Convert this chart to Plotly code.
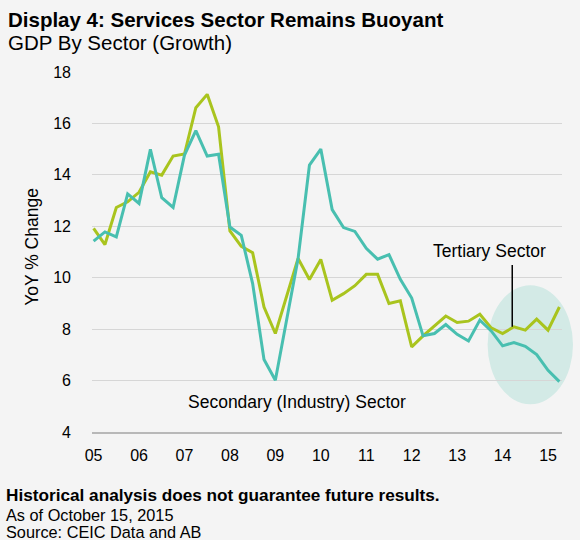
import plotly.graph_objects as go

# quarterly YoY growth, 2005Q1 - 2015Q2
quarters = [f"{y}Q{q}" for y in range(2005, 2016) for q in range(1, 5)][:42]
secondary = [11.42, 11.78, 11.59, 13.26, 12.89, 14.99, 13.11, 12.73,
             14.77, 15.72, 14.73, 14.80, 11.97, 11.65, 9.77, 6.82,
             6.01, 8.39, 10.75, 14.38, 15.00, 12.65, 11.95, 11.80,
             11.14, 10.72, 10.90, 9.94, 9.21, 7.74, 7.83, 8.18,
             7.80, 7.54, 8.35, 7.93, 7.35, 7.48, 7.33, 7.01,
             6.40, 5.96]
tertiary = [11.92, 11.29, 12.73, 12.95, 13.32, 14.12, 13.99, 14.73,
            14.81, 16.61, 17.13, 15.87, 11.82, 11.22, 10.97, 8.86,
            7.83, 9.26, 10.75, 9.93, 10.71, 9.12, 9.38, 9.69,
            10.13, 10.13, 9.00, 9.10, 7.31, 7.74, 8.12, 8.51,
            8.26, 8.31, 8.58, 8.05, 7.83, 8.09, 7.96, 8.39,
            7.96, 8.86]
tick_quarters = [f"{y}Q1" for y in range(2005, 2016)]
tick_labels = ["05", "06", "07", "08", "09", "10", "11", "12", "13", "14", "15"]

TEAL = "#48bfb0"
LIME = "#a9c41e"
BG = "#f4f4f4"
FONT = "Liberation Sans, Arial, sans-serif"

# plot box in pixels
L, R, T, B = 91.7, 561.7, 72.0, 431.7
W, H = 580, 540


def px_x(x):
    return (x - L) / (R - L)


def px_y(y):
    return (B - y) / (B - T)


fig = go.Figure()
fig.add_trace(go.Scatter(x=quarters, y=tertiary, mode="lines",
                         line=dict(color=LIME, width=3), name="Tertiary"))
fig.add_trace(go.Scatter(x=quarters, y=secondary, mode="lines",
                         line=dict(color=TEAL, width=3), name="Secondary"))

# highlight ellipse
fig.add_shape(type="circle", xref="paper", yref="paper",
              x0=px_x(487.3), x1=px_x(572.7), y0=px_y(404), y1=px_y(285),
              fillcolor="#d3eae6", line=dict(width=0), layer="below")

# pointer to tertiary line
fig.add_shape(type="line", xref="x", yref="y", x0=36.85, x1=36.85,
              y0=10.49, y1=tertiary[37], line=dict(color="black", width=1.5))

anns = [
    dict(text="<b>Display 4: Services Sector Remains Buoyant</b>", x=px_x(6), y=px_y(19.5), size=20.5),
    dict(text="GDP By Sector (Growth)", x=px_x(6), y=px_y(43), size=20.5),
    dict(text="<b>Historical analysis does not guarantee future results.</b>", x=px_x(4), y=px_y(495), size=17.2),
    dict(text="As of October 15, 2015", x=px_x(4), y=px_y(515), size=16.3),
    dict(text="Source: CEIC Data and AB", x=px_x(4), y=px_y(532), size=16.3),
]
for a in anns:
    fig.add_annotation(text=a["text"], xref="paper", yref="paper", x=a["x"], y=a["y"],
                       xanchor="left", yanchor="middle", showarrow=False,
                       font=dict(size=a["size"], color="black", family=FONT))

fig.add_annotation(text="YoY % Change", xref="paper", yref="paper", x=px_x(31.7), y=px_y(246.7),
                   textangle=-90, showarrow=False, xanchor="center", yanchor="middle",
                   font=dict(size=17.5, color="black", family=FONT))
fig.add_annotation(text="Secondary (Industry) Sector", x=17.9, y=5.16, showarrow=False,
                   xanchor="center", yanchor="middle", font=dict(size=17.5, color="black", family=FONT))
fig.add_annotation(text="Tertiary Sector", x=34.83, y=11.03, showarrow=False,
                   xanchor="center", yanchor="middle", font=dict(size=17.5, color="black", family=FONT))

fig.update_layout(
    width=W, height=H,
    margin=dict(l=L, r=W - R, t=T, b=H - B, pad=0),
    paper_bgcolor=BG, plot_bgcolor=BG,
    showlegend=False,
    font=dict(family=FONT, size=16, color="black"),
)
fig.update_xaxes(type="category", range=[-0.14, 41.23], tickvals=tick_quarters, ticktext=tick_labels,
                 showgrid=False, showline=True, linecolor="#b8b8b8", linewidth=1.5,
                 ticks="", ticklabelstandoff=8, tickfont=dict(size=16))
fig.update_yaxes(range=[4, 18], dtick=2, showgrid=True, gridcolor="#d6d6d6", gridwidth=1.3,
                 zeroline=False, ticks="", ticklabelstandoff=20, tickfont=dict(size=16))

# page body has a default 8px margin; remove it so the figure sits at the window corner
fig.write_html("out.html", config={"displayModeBar": False},
               post_script="document.body.style.margin='0';")
